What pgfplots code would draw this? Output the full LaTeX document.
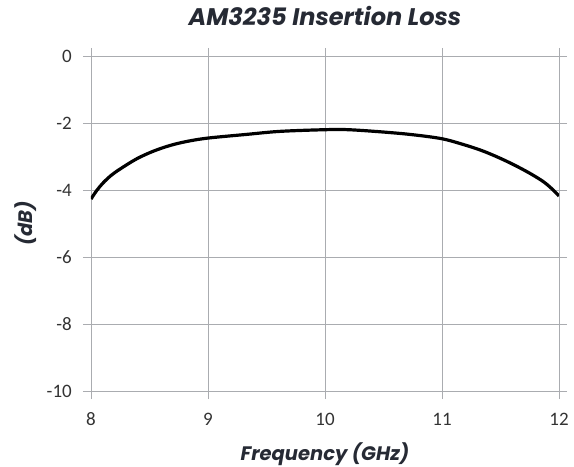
\documentclass[border=0pt]{standalone}
\usepackage{pgfplots}
\pgfplotsset{compat=1.18}
\usepackage{fontspec}
\setmainfont{Carlito}
\newfontfamily\gothic{Poppins}
\definecolor{gridc}{RGB}{170,172,176}
\definecolor{txt}{RGB}{38,42,52}
\begin{document}
\begin{tikzpicture}
\begin{axis}[
  scale only axis,
  width=468pt, height=335pt,
  xmin=8, xmax=12, ymin=-10, ymax=0,
  xtick={8,9,10,11,12}, ytick={-10,-8,-6,-4,-2,0},
  yticklabels={-10,-8,-6,-4,-2,0},
  grid=major,
  major grid style={gridc, line width=0.8pt},
  axis line style={gridc, line width=0.8pt},
  tick style={gridc, line width=0.8pt},
  tick align=outside,
  major tick length=8pt,
  /pgf/number format/assume math mode=true,
  ticklabel style={font=\fontsize{19}{22}\selectfont, text=black!80, inner sep=0pt},
  xticklabel style={anchor=base, yshift=-26pt},
  yticklabel style={anchor=east, xshift=-11pt},
  title={\gothic\bfseries\itshape AM3235 Insertion Loss},
  title style={font=\fontsize{24}{28}\selectfont, text=txt, at={(0.5,1)}, anchor=base, yshift=24pt, inner sep=0pt},
  xlabel={\gothic\bfseries\itshape Frequency (GHz)},
  ylabel={\gothic\bfseries\itshape (dB)},
  xlabel style={at={(0.5,0)}, anchor=base, yshift=-69pt, inner sep=0pt},
  ylabel style={at={(0,0.5)}, rotate=0, anchor=base, yshift=58pt, inner sep=0pt},
  label style={font=\fontsize{19.5}{23}\selectfont, text=txt},
]
\addplot[black, line width=3.2pt, smooth, tension=0.55] coordinates {
(8.000,-4.27) (8.050,-4.01) (8.103,-3.79) (8.170,-3.57) (8.246,-3.38) (8.390,-3.07) (8.534,-2.84)
(8.677,-2.67) (8.820,-2.55) (9.000,-2.45) (9.330,-2.34) (9.615,-2.25)
(10.000,-2.20) (10.200,-2.20) (10.500,-2.27) (10.750,-2.35) (11.000,-2.47)
(11.180,-2.64) (11.330,-2.81) (11.470,-3.01) (11.610,-3.24) (11.750,-3.50)
(11.870,-3.76) (11.950,-4.00) (12.000,-4.18)
};
\coordinate (sw) at (rel axis cs:0,0);
\coordinate (ne) at (rel axis cs:1,1);
\end{axis}
\pgfresetboundingbox
\path ([shift={(-91pt,-75pt)}]sw) rectangle ([shift={(15pt,56pt)}]ne);
\end{tikzpicture}
\end{document}
